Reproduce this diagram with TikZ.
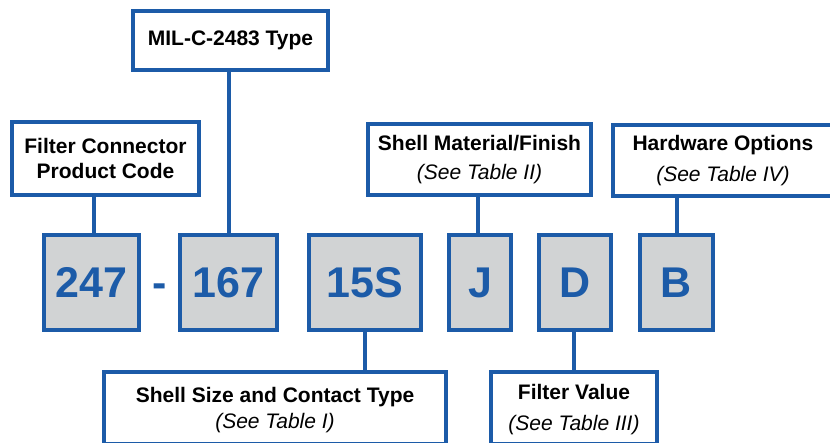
\documentclass[tikz,border=0pt]{standalone}
\usepackage{fontspec}
\setmainfont{Liberation Sans}
\usetikzlibrary{calc}
\definecolor{bblue}{HTML}{1C5BA8}
\definecolor{bgray}{HTML}{D1D3D4}
\begin{document}
\begin{tikzpicture}[x=1pt,y=-1pt,
  lbox/.style={draw=bblue, line width=4pt, fill=white, align=center, inner sep=0pt,
    font=\bfseries\fontsize{21}{25}\selectfont},
  nbox/.style={draw=bblue, line width=4pt, fill=bgray, text=bblue, inner sep=0pt,
    font=\bfseries\fontsize{43}{50}\selectfont, minimum height=95pt},
  link/.style={draw=bblue, line width=4pt}]
\useasboundingbox (0,0) rectangle (830,443);
\clip (0,0) rectangle (830,443);

% top labels
\node[lbox, minimum width=195pt, minimum height=59pt] (mil) at (230.5,40.5) {MIL-C-2483 Type};
\node[lbox, minimum width=187pt, minimum height=73pt] (fc) at (105.5,158.5) {Filter Connector\\Product Code};
\node[lbox, minimum width=223pt, minimum height=71pt] (sm) at (479.5,159.5) {Shell Material/Finish\\[4pt]{\mdseries\itshape (See Table II)}};
\node[lbox, minimum width=220pt, minimum height=71pt] (hw) at (723,160.5) {Hardware Options\\[6pt]{\mdseries\itshape (See Table IV)}};

% code boxes
\node[nbox, minimum width=95pt] (n247) at (91.5,282.5) {247};
\node[nbox, minimum width=97pt] (n167) at (228.5,282.5) {167};
\node[nbox, minimum width=112pt] (n15s) at (365,282.5) {15S};
\node[nbox, minimum width=62pt] (nj) at (480,282.5) {J};
\node[nbox, minimum width=72pt] (nd) at (575,282.5) {D};
\node[nbox, minimum width=73pt] (nb) at (676.5,282.5) {B};
\node[anchor=base, text=bblue, inner sep=0pt, font=\bfseries\fontsize{43}{50}\selectfont] (dash)
  at ($(n247.base)!0.5!(n167.base)$) {-};

% bottom labels
\node[lbox, minimum width=342pt, minimum height=72.5pt] (ss) at (275,408) {\rule{0pt}{19pt}Shell Size and Contact Type\\[1pt]{\mdseries\itshape (See Table I)}};
\node[lbox, minimum width=166pt, minimum height=72.5pt] (fv) at (574,408) {\rule{0pt}{19pt}Filter Value\\[6pt]{\mdseries\itshape (See Table III)}};

% connectors
\coordinate (c1) at ([xshift=2.5pt]n247.north);
\draw[link] (c1) -- (c1 |- fc.south);
\draw[link] (n167.north) -- (n167.north |- mil.south);
\coordinate (c3) at ([xshift=-2pt]nj.north);
\draw[link] (c3) -- (c3 |- sm.south);
\draw[link] (nb.north) -- (nb.north |- hw.south);
\draw[link] (n15s.south) -- (n15s.south |- ss.north);
\coordinate (c6) at ([xshift=-1pt]nd.south);
\draw[link] (c6) -- (c6 |- fv.north);
\end{tikzpicture}
\end{document}
